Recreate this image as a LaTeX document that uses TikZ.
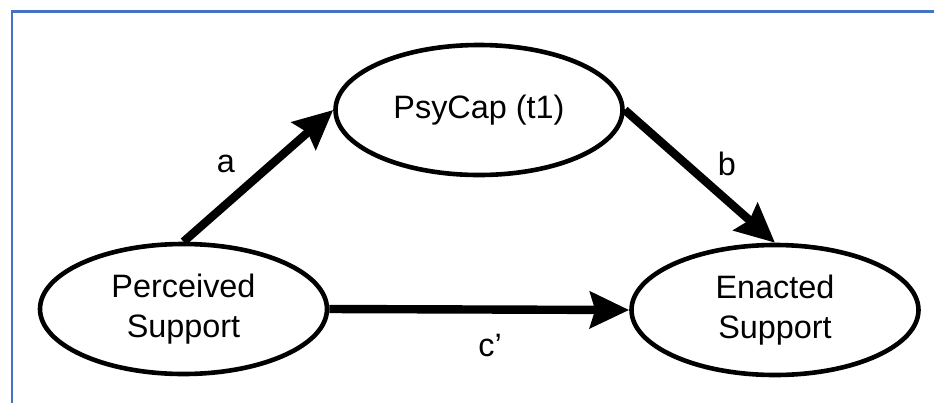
\documentclass[tikz,border=0pt]{standalone}
\usepackage{fontspec}
\setmainfont{Liberation Sans}
\usetikzlibrary{arrows.meta,shapes.geometric}
\definecolor{frameblue}{RGB}{68,114,196}
\tikzset{
  construct/.style={draw=black, line width=2.3pt, ellipse, inner sep=0pt,
    minimum width=143.5pt, minimum height=65pt, align=center,
    font=\fontsize{16.2}{20}\selectfont},
  path arrow/.style={line width=4.2pt,
    -{Stealth[length=19.5pt, width=18pt, inset=2.5pt]}},
  path label/.style={font=\fontsize{16.2}{18}\selectfont},
  frame line/.style={draw=frameblue, line width=1.4pt}
}
\begin{document}
\begin{tikzpicture}[x=0.5pt, y=-0.5pt]
  \useasboundingbox (0,0) rectangle (934,403);
  \fill[white] (0,0) rectangle (934,403);
  % frame along the top and left edges
  \coordinate (fbl) at (12,403);
  \coordinate (ftl) at (12,11.5);
  \coordinate (ftr) at (934,11.5);
  \draw[frame line] (fbl) -- (ftl) -- (ftr);

  % constructs
  \node[construct] (psy) at (479,110) {PsyCap (t1)};
  \node[construct] (per) at (183.5,309) {Perceived\\Support};
  \node[construct] (ena) at (775,310) {Enacted\\Support};

  % paths
  \draw[path arrow] (per.north) -- (psy.west);
  \draw[path arrow] (psy.east) -- (ena.north);
  \draw[path arrow] (per.east) -- (ena.west);

  % path labels
  \node[path label] (la) at (226,164) {a};
  \node[path label] (lb) at (727,164) {b};
  \node[path label] (lc) at (490,346) {c’};
\end{tikzpicture}
\end{document}
